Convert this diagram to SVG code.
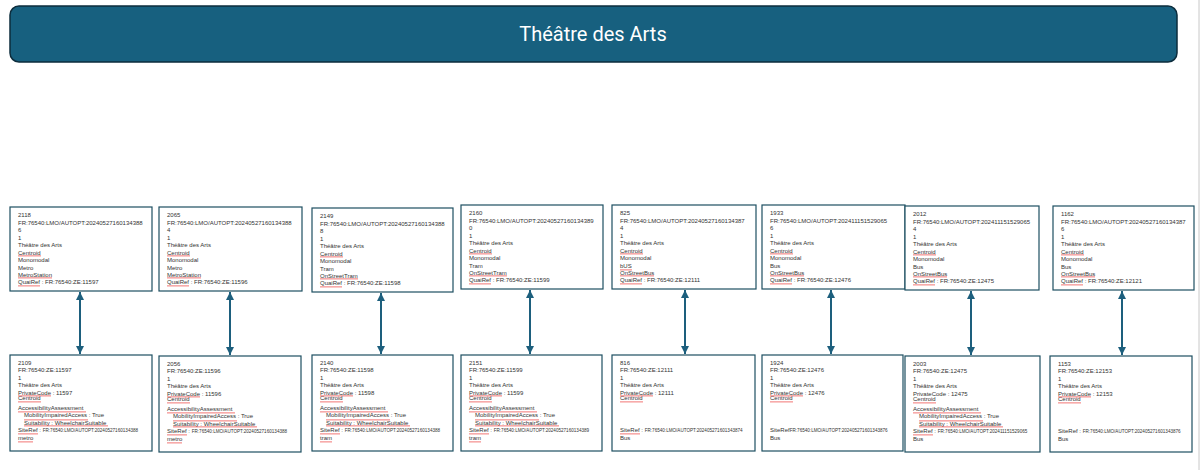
<svg xmlns="http://www.w3.org/2000/svg" width="1200" height="470" viewBox="0 0 1200 470">
<style>
.box{fill:#fff;stroke:#1d4f61;stroke-width:1.2}
.t{font-family:"Liberation Sans",Arial,sans-serif;font-size:6px;fill:#333}
.s{font-size:4.6px}
.sq{fill:url(#wave)}
.arr{stroke:#1d5f7d;stroke-width:2;fill:none;marker-start:url(#ah);marker-end:url(#ah)}
.title{font-family:Roboto,"Liberation Sans",Arial,sans-serif;font-size:20px;fill:#fff;text-anchor:middle}
</style>
<defs>
<pattern id="wave" patternUnits="userSpaceOnUse" width="2" height="2"><path d="M0,1.6 L1,0.4 L2,1.6" fill="none" stroke="#e8201c" stroke-width="0.7"/></pattern>
<marker id="ah" viewBox="0 0 10 10" refX="10" refY="5" markerWidth="8" markerHeight="9" markerUnits="userSpaceOnUse" orient="auto-start-reverse"><path d="M0,0 L10,5 L0,10 z" fill="#1d5f7d"/></marker>
</defs>
<rect x="0" y="0" width="1200" height="470" fill="#fff"/>
<line x1="1199" y1="0" x2="1199" y2="470" stroke="#c8c8c8" stroke-width="1"/>
<g id="title">
<rect x="10" y="6" width="1167" height="56" rx="9" fill="#17607f" stroke="#0d2d3d" stroke-width="1.5"/>
<text class="title" x="593" y="41">Théâtre des Arts</text>
</g>

<g id="q1" transform="translate(10,207)">
<rect class="box" width="142" height="84"/>
<text class="t"><tspan x="8" y="10">2118</tspan><tspan x="8" y="17.5">FR:76540:LMO/AUTOPT:20240527160134388</tspan><tspan x="8" y="25">6</tspan><tspan x="8" y="32.5">1</tspan><tspan x="8" y="40">Théâtre des Arts</tspan><tspan x="8" y="47.5">Centroid</tspan><tspan x="8" y="55">Monomodal</tspan><tspan x="8" y="62.5">Metro</tspan><tspan x="8" y="70">MetroStation</tspan><tspan x="8" y="76.5">QuaiRef : FR:76540:ZE:11597</tspan></text>
<rect class="sq" x="8" y="48" width="23" height="2"/><rect class="sq" x="8" y="70" width="34" height="2"/><rect class="sq" x="8" y="78" width="22" height="2"/>
</g>
<g id="q2" transform="translate(159,207)">
<rect class="box" width="143" height="84"/>
<text class="t"><tspan x="8" y="10">2065</tspan><tspan x="8" y="17.5">FR:76540:LMO/AUTOPT:20240527160134388</tspan><tspan x="8" y="25">4</tspan><tspan x="8" y="32.5">1</tspan><tspan x="8" y="40">Théâtre des Arts</tspan><tspan x="8" y="47.5">Centroid</tspan><tspan x="8" y="55">Monomodal</tspan><tspan x="8" y="62.5">Metro</tspan><tspan x="8" y="70">MetroStation</tspan><tspan x="8" y="76.5">QuaiRef : FR:76540:ZE:11596</tspan></text>
<rect class="sq" x="8" y="48" width="23" height="2"/><rect class="sq" x="8" y="70" width="34" height="2"/><rect class="sq" x="8" y="78" width="22" height="2"/>
</g>
<g id="q3" transform="translate(312,208)">
<rect class="box" width="141" height="84"/>
<text class="t"><tspan x="8" y="10">2149</tspan><tspan x="8" y="17.5">FR:76540:LMO/AUTOPT:20240527160134388</tspan><tspan x="8" y="25">8</tspan><tspan x="8" y="32.5">1</tspan><tspan x="8" y="40">Théâtre des Arts</tspan><tspan x="8" y="47.5">Centroid</tspan><tspan x="8" y="55">Monomodal</tspan><tspan x="8" y="62.5">Tram</tspan><tspan x="8" y="70">OnStreetTram</tspan><tspan x="8" y="76.5">QuaiRef : FR:76540:ZE:11598</tspan></text>
<rect class="sq" x="8" y="48" width="23" height="2"/><rect class="sq" x="8" y="70" width="38" height="2"/><rect class="sq" x="8" y="78" width="22" height="2"/>
</g>
<g id="q4" transform="translate(461,205)">
<rect class="box" width="142" height="84"/>
<text class="t"><tspan x="8" y="10">2160</tspan><tspan x="8" y="17.5">FR:76540:LMO/AUTOPT:20240527160134389</tspan><tspan x="8" y="25">0</tspan><tspan x="8" y="32.5">1</tspan><tspan x="8" y="40">Théâtre des Arts</tspan><tspan x="8" y="47.5">Centroid</tspan><tspan x="8" y="55">Monomodal</tspan><tspan x="8" y="62.5">Tram</tspan><tspan x="8" y="70">OnStreetTram</tspan><tspan x="8" y="76.5">QuaiRef : FR:76540:ZE:11599</tspan></text>
<rect class="sq" x="8" y="48" width="23" height="2"/><rect class="sq" x="8" y="70" width="38" height="2"/><rect class="sq" x="8" y="78" width="22" height="2"/>
</g>
<g id="q5" transform="translate(612,205)">
<rect class="box" width="144" height="84"/>
<text class="t"><tspan x="8" y="10">825</tspan><tspan x="8" y="17.5">FR:76540:LMO/AUTOPT:20240527160134387</tspan><tspan x="8" y="25">4</tspan><tspan x="8" y="32.5">1</tspan><tspan x="8" y="40">Théâtre des Arts</tspan><tspan x="8" y="47.5">Centroid</tspan><tspan x="8" y="55">Monomodal</tspan><tspan x="8" y="62.5">bUS</tspan><tspan x="8" y="70">OnStreetBus</tspan><tspan x="8" y="76.5">QuaiRef : FR:76540:ZE:12111</tspan></text>
<rect class="sq" x="8" y="48" width="23" height="2"/><rect class="sq" x="8" y="64" width="12" height="2"/><rect class="sq" x="8" y="70" width="34" height="2"/><rect class="sq" x="8" y="78" width="22" height="2"/>
</g>
<g id="q6" transform="translate(762,205)">
<rect class="box" width="143" height="84"/>
<text class="t"><tspan x="8" y="10">1933</tspan><tspan x="8" y="17.5">FR:76540:LMO/AUTOPT:202411151529065</tspan><tspan x="8" y="25">6</tspan><tspan x="8" y="32.5">1</tspan><tspan x="8" y="40">Théâtre des Arts</tspan><tspan x="8" y="47.5">Centroid</tspan><tspan x="8" y="55">Monomodal</tspan><tspan x="8" y="62.5">Bus</tspan><tspan x="8" y="70">OnStreetBus</tspan><tspan x="8" y="76.5">QuaiRef : FR:76540:ZE:12476</tspan></text>
<rect class="sq" x="8" y="48" width="23" height="2"/><rect class="sq" x="8" y="70" width="34" height="2"/><rect class="sq" x="8" y="78" width="22" height="2"/>
</g>
<g id="q7" transform="translate(905,206)">
<rect class="box" width="134" height="84"/>
<text class="t"><tspan x="8" y="10">2012</tspan><tspan x="8" y="17.5">FR:76540:LMO/AUTOPT:202411151529065</tspan><tspan x="8" y="25">4</tspan><tspan x="8" y="32.5">1</tspan><tspan x="8" y="40">Théâtre des Arts</tspan><tspan x="8" y="47.5">Centroid</tspan><tspan x="8" y="55">Monomodal</tspan><tspan x="8" y="62.5">Bus</tspan><tspan x="8" y="70">OnStreetBus</tspan><tspan x="8" y="76.5">QuaiRef : FR:76540:ZE:12475</tspan></text>
<rect class="sq" x="8" y="48" width="23" height="2"/><rect class="sq" x="8" y="70" width="34" height="2"/><rect class="sq" x="8" y="78" width="22" height="2"/>
</g>
<g id="q8" transform="translate(1053,206)">
<rect class="box" width="141" height="84"/>
<text class="t"><tspan x="8" y="10">1162</tspan><tspan x="8" y="17.5">FR:76540:LMO/AUTOPT:20240527160134387</tspan><tspan x="8" y="25">6</tspan><tspan x="8" y="32.5">1</tspan><tspan x="8" y="40">Théâtre des Arts</tspan><tspan x="8" y="47.5">Centroid</tspan><tspan x="8" y="55">Monomodal</tspan><tspan x="8" y="62.5">Bus</tspan><tspan x="8" y="70">OnStreetBus</tspan><tspan x="8" y="76.5">QuaiRef : FR:76540:ZE:12121</tspan></text>
<rect class="sq" x="8" y="48" width="23" height="2"/><rect class="sq" x="8" y="70" width="34" height="2"/><rect class="sq" x="8" y="78" width="22" height="2"/>
</g>

<g id="z1" transform="translate(10,355)">
<rect class="box" width="142" height="96"/>
<text class="t"><tspan x="8" y="9.5">2109</tspan><tspan x="8" y="17">FR:76540:ZE:11597</tspan><tspan x="8" y="24.5">1</tspan><tspan x="8" y="32">Théâtre des Arts</tspan><tspan x="8" y="39.5">PrivateCode : 11597</tspan><tspan x="8" y="44.5">Centroid</tspan><tspan x="8" y="54.5">AccessibilityAssessment</tspan><tspan x="14" y="62">MobilityImpairedAccess : True</tspan><tspan x="14" y="69.5">Suitability : WheelchairSuitable</tspan><tspan x="8" y="77">SiteRef : <tspan class="s">FR:76540:LMO/AUTOPT:20240527160134388</tspan></tspan><tspan x="8" y="84.5">metro</tspan></text>
<rect class="sq" x="8" y="40" width="33" height="2"/><rect class="sq" x="8" y="46" width="23" height="2"/><rect class="sq" x="8" y="56" width="68" height="2"/><rect class="sq" x="14" y="64" width="64" height="2"/><rect class="sq" x="14" y="70" width="84" height="2"/><rect class="sq" x="8" y="78" width="20" height="2"/><rect class="sq" x="8" y="86" width="15" height="2"/>
</g>
<g id="z2" transform="translate(159,356)">
<rect class="box" width="142" height="96"/>
<text class="t"><tspan x="8" y="9.5">2056</tspan><tspan x="8" y="17">FR:76540:ZE:11596</tspan><tspan x="8" y="24.5">1</tspan><tspan x="8" y="32">Théâtre des Arts</tspan><tspan x="8" y="39.5">PrivateCode : 11596</tspan><tspan x="8" y="44.5">Centroid</tspan><tspan x="8" y="54.5">AccessibilityAssessment</tspan><tspan x="14" y="62">MobilityImpairedAccess : True</tspan><tspan x="14" y="69.5">Suitability : WheelchairSuitable</tspan><tspan x="8" y="77">SiteRef : <tspan class="s">FR:76540:LMO/AUTOPT:20240527160134388</tspan></tspan><tspan x="8" y="84.5">metro</tspan></text>
<rect class="sq" x="8" y="40" width="33" height="2"/><rect class="sq" x="8" y="46" width="23" height="2"/><rect class="sq" x="8" y="56" width="68" height="2"/><rect class="sq" x="14" y="64" width="64" height="2"/><rect class="sq" x="14" y="70" width="84" height="2"/><rect class="sq" x="8" y="78" width="20" height="2"/><rect class="sq" x="8" y="86" width="15" height="2"/>
</g>
<g id="z3" transform="translate(312,355)">
<rect class="box" width="141" height="96"/>
<text class="t"><tspan x="8" y="9.5">2140</tspan><tspan x="8" y="17">FR:76540:ZE:11598</tspan><tspan x="8" y="24.5">1</tspan><tspan x="8" y="32">Théâtre des Arts</tspan><tspan x="8" y="39.5">PrivateCode : 11598</tspan><tspan x="8" y="44.5">Centroid</tspan><tspan x="8" y="54.5">AccessibilityAssessment</tspan><tspan x="14" y="62">MobilityImpairedAccess : True</tspan><tspan x="14" y="69.5">Suitability : WheelchairSuitable</tspan><tspan x="8" y="77">SiteRef : <tspan class="s">FR:76540:LMO/AUTOPT:20240527160134388</tspan></tspan><tspan x="8" y="84.5">tram</tspan></text>
<rect class="sq" x="8" y="40" width="33" height="2"/><rect class="sq" x="8" y="46" width="23" height="2"/><rect class="sq" x="8" y="56" width="68" height="2"/><rect class="sq" x="14" y="64" width="64" height="2"/><rect class="sq" x="14" y="70" width="84" height="2"/><rect class="sq" x="8" y="78" width="20" height="2"/><rect class="sq" x="8" y="86" width="12" height="2"/>
</g>
<g id="z4" transform="translate(461,355)">
<rect class="box" width="141" height="96"/>
<text class="t"><tspan x="8" y="9.5">2151</tspan><tspan x="8" y="17">FR:76540:ZE:11599</tspan><tspan x="8" y="24.5">1</tspan><tspan x="8" y="32">Théâtre des Arts</tspan><tspan x="8" y="39.5">PrivateCode : 11599</tspan><tspan x="8" y="44.5">Centroid</tspan><tspan x="8" y="54.5">AccessibilityAssessment</tspan><tspan x="14" y="62">MobilityImpairedAccess : True</tspan><tspan x="14" y="69.5">Suitability : WheelchairSuitable</tspan><tspan x="8" y="77">SiteRef : <tspan class="s">FR:76540:LMO/AUTOPT:20240527160134389</tspan></tspan><tspan x="8" y="84.5">tram</tspan></text>
<rect class="sq" x="8" y="40" width="33" height="2"/><rect class="sq" x="8" y="46" width="23" height="2"/><rect class="sq" x="8" y="56" width="68" height="2"/><rect class="sq" x="14" y="64" width="64" height="2"/><rect class="sq" x="14" y="70" width="84" height="2"/><rect class="sq" x="8" y="78" width="20" height="2"/><rect class="sq" x="8" y="86" width="12" height="2"/>
</g>
<g id="z5" transform="translate(612,355)">
<rect class="box" width="143" height="96"/>
<text class="t"><tspan x="8" y="9.5">816</tspan><tspan x="8" y="17">FR:76540:ZE:12111</tspan><tspan x="8" y="24.5">1</tspan><tspan x="8" y="32">Théâtre des Arts</tspan><tspan x="8" y="39.5">PrivateCode : 12111</tspan><tspan x="8" y="44.5">Centroid</tspan><tspan x="8" y="77">SiteRef : <tspan class="s">FR:76540:LMO/AUTOPT:202405271601343874</tspan></tspan><tspan x="8" y="84.5">Bus</tspan></text>
<rect class="sq" x="8" y="40" width="33" height="2"/><rect class="sq" x="8" y="46" width="23" height="2"/><rect class="sq" x="8" y="78" width="20" height="2"/>
</g>
<g id="z6" transform="translate(762,355)">
<rect class="box" width="141" height="96"/>
<text class="t"><tspan x="8" y="9.5">1924</tspan><tspan x="8" y="17">FR:76540:ZE:12476</tspan><tspan x="8" y="24.5">1</tspan><tspan x="8" y="32">Théâtre des Arts</tspan><tspan x="8" y="39.5">PrivateCode : 12476</tspan><tspan x="8" y="44.5">Centroid</tspan><tspan x="8" y="77">SiteRef<tspan class="s">FR:76540:LMO/AUTOPT:202405271601343876</tspan></tspan><tspan x="8" y="84.5">Bus</tspan></text>
<rect class="sq" x="8" y="40" width="33" height="2"/><rect class="sq" x="8" y="46" width="23" height="2"/>
</g>
<g id="z7" transform="translate(905,356)">
<rect class="box" width="135" height="96"/>
<text class="t"><tspan x="8" y="9.5">2003</tspan><tspan x="8" y="17">FR:76540:ZE:12475</tspan><tspan x="8" y="24.5">1</tspan><tspan x="8" y="32">Théâtre des Arts</tspan><tspan x="8" y="39.5">PrivateCode : 12475</tspan><tspan x="8" y="44.5">Centroid</tspan><tspan x="8" y="54.5">AccessibilityAssessment</tspan><tspan x="14" y="62">MobilityImpairedAccess : True</tspan><tspan x="14" y="69.5">Suitability : WheelchairSuitable</tspan><tspan x="8" y="77">SiteRef : <tspan class="s">FR:76540:LMO/AUTOPT:202411151529065</tspan></tspan><tspan x="8" y="84.5">Bus</tspan></text>
<rect class="sq" x="8" y="46" width="23" height="2"/><rect class="sq" x="8" y="56" width="68" height="2"/><rect class="sq" x="14" y="64" width="64" height="2"/><rect class="sq" x="14" y="70" width="84" height="2"/><rect class="sq" x="8" y="78" width="20" height="2"/>
</g>
<g id="z8" transform="translate(1050,356)">
<rect class="box" width="142" height="96"/>
<text class="t"><tspan x="8" y="9.5">1153</tspan><tspan x="8" y="17">FR:76540:ZE:12153</tspan><tspan x="8" y="24.5">1</tspan><tspan x="8" y="32">Théâtre des Arts</tspan><tspan x="8" y="39.5">PrivateCode : 12153</tspan><tspan x="8" y="44.5">Centroid</tspan><tspan x="8" y="77">SiteRef : <tspan class="s">FR:76540:LMO/AUTOPT:202405271601343876</tspan></tspan><tspan x="8" y="84.5">Bus</tspan></text>
<rect class="sq" x="8" y="40" width="33" height="2"/><rect class="sq" x="8" y="46" width="23" height="2"/>
</g>

<g id="connectors">
<line class="arr" x1="80" y1="292" x2="80" y2="354"/>
<line class="arr" x1="230" y1="292" x2="230" y2="355"/>
<line class="arr" x1="381" y1="293" x2="381" y2="354"/>
<line class="arr" x1="530" y1="290" x2="530" y2="354"/>
<line class="arr" x1="685" y1="290" x2="685" y2="354"/>
<line class="arr" x1="831" y1="290" x2="831" y2="354"/>
<line class="arr" x1="971" y1="291" x2="971" y2="355"/>
<line class="arr" x1="1122" y1="291" x2="1122" y2="355"/>
</g>
</svg>
